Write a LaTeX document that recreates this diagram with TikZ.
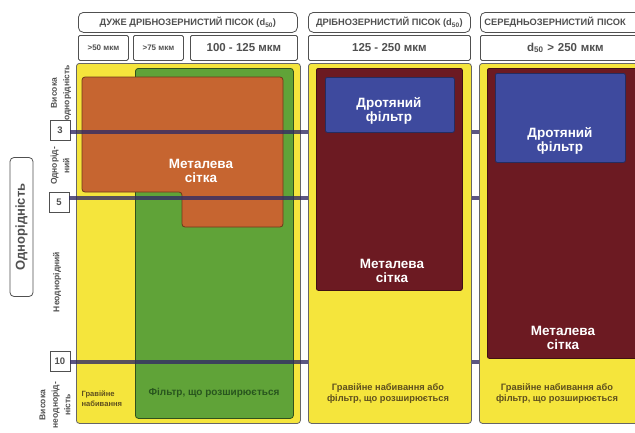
\documentclass[tikz,border=0pt]{standalone}
\usepackage{fontspec}
\setmainfont{Liberation Sans}
\definecolor{cyellow}{RGB}{245,229,60}
\definecolor{cgreen}{RGB}{96,163,56}
\definecolor{corange}{RGB}{198,101,48}
\definecolor{cred}{RGB}{108,26,34}
\definecolor{cblue}{RGB}{62,74,158}
\definecolor{cline}{RGB}{50,44,100}
\definecolor{cgray}{RGB}{80,80,80}
\definecolor{colive}{RGB}{95,80,30}
\definecolor{cdkgreen}{RGB}{40,85,30}
\begin{document}
\begin{tikzpicture}[x=1pt,y=-1pt,
  hdr/.style={draw=cgray,line width=0.8pt,fill=white,rounded corners=5pt,inner sep=0pt,anchor=north west,text=cgray,font=\bfseries\fontsize{9.3}{10}\selectfont},
  sub/.style={draw=cgray,line width=0.8pt,fill=white,rounded corners=1.5pt,inner sep=0pt,anchor=north west,text=cgray,font=\bfseries\fontsize{11.5}{12}\selectfont},
  num/.style={draw=cgray,line width=0.8pt,fill=white,inner sep=0pt,minimum width=20pt,minimum height=20pt,text=cgray,font=\bfseries\fontsize{9.5}{10}\selectfont},
  side/.style={rotate=90,align=center,text=cgray,font=\bfseries\fontsize{8.5}{12.5}\selectfont},
  panel/.style={draw=black!60,line width=0.8pt,rounded corners=3pt,inner sep=0pt,anchor=north west},
  wtxt/.style={text=white,align=center,font=\bfseries\fontsize{13.5}{14}\selectfont},
  btxt/.style={text=colive,align=center,font=\bfseries\fontsize{9.3}{11}\selectfont},
  hline/.style={draw=cline,line width=4pt,draw opacity=0.8}]
\useasboundingbox (0,0) rectangle (635,432);
\fill[white] (0,0) rectangle (635,432);

% header row 1
\node[hdr,minimum width=219pt,minimum height=20pt] (h1) at (78,12) {ДУЖЕ ДРІБНОЗЕРНИСТИЙ ПІСОК (d\textsubscript{50})};
\node[hdr,minimum width=162pt,minimum height=20pt] (h2) at (308,12) {ДРІБНОЗЕРНИСТИЙ ПІСОК (d\textsubscript{50})};
\node[hdr,minimum width=170pt,minimum height=20pt,text width=166pt,align=left] (h3) at (480,12) {\hspace*{2pt}СЕРЕДНЬОЗЕРНИСТИЙ ПІСОК};
% header row 2
\node[sub,minimum width=50pt,minimum height=25pt,font=\bfseries\fontsize{8}{9}\selectfont] (s1) at (78,35) {>50 мкм};
\node[sub,minimum width=50pt,minimum height=25pt,font=\bfseries\fontsize{8}{9}\selectfont] (s2) at (133,35) {>75 мкм};
\node[sub,minimum width=107pt,minimum height=25pt] (s3) at (190,35) {100 - 125 мкм};
\node[sub,minimum width=162pt,minimum height=25pt] (s4) at (308,35) {125 - 250 мкм};
\node[sub,minimum width=170pt,minimum height=25pt,text width=155pt,align=center] (s5) at (480,35) {d\textsubscript{50} > 250 мкм};

% column 1
\node[panel,fill=cyellow,minimum width=224pt,minimum height=360pt] (y1) at (76,63) {};
\node[panel,fill=cgreen,draw=black!50!cgreen,minimum width=158pt,minimum height=350pt] (g1) at (135,68) {};
\filldraw[fill=corange,draw=black!45!corange,line width=0.8pt,rounded corners=3pt]
  (82,77) -- (283,77) -- (283,227) -- (182,227) -- (182,192) -- (82,192) -- cycle;
\node[wtxt] (m1) at (201,171) {Металева\\сітка};
\node[btxt,align=left,font=\bfseries\fontsize{7.6}{10}\selectfont,anchor=west] (b1) at (78,399) {Гравійне\\набивання};
\node[btxt,text=cdkgreen,font=\bfseries\fontsize{10}{11}\selectfont] (b2) at (214,393) {Фільтр, що розширюється};

% number boxes and lines
\node[num] (n3) at (60,130) {3};
\node[num] (n5) at (59,202) {5};
\node[num] (n10) at (60,361) {10};
\coordinate (e3) at (635,132);
\coordinate (e5) at (635,198);
\coordinate (e10) at (635,362);
\draw[hline] (n3.east |- e3) -- (e3);
\draw[hline] (n5.east |- e5) -- (e5);
\draw[hline] (n10.east |- e10) -- (e10);

% column 2
\node[panel,fill=cyellow,minimum width=163pt,minimum height=360pt] (y2) at (308,63) {};
\node[panel,fill=cred,draw=black!40!cred,rounded corners=2pt,minimum width=146pt,minimum height=222pt] (r2) at (316,68) {};
\node[panel,fill=cblue,draw=black!40!cblue,rounded corners=2pt,minimum width=129pt,minimum height=55pt] (bl2) at (325,77) {};
\node[wtxt] (d2) at (389,111) {Дротяний\\фільтр};
\node[wtxt] (m2) at (392,271) {Металева\\сітка};
\node[btxt] (b3) at (388,393) {Гравійне набивання або\\фільтр, що розширюється};

% column 3
\node[panel,fill=cyellow,minimum width=170pt,minimum height=360pt] (y3) at (479,63) {};
\node[panel,fill=cred,draw=black!40!cred,rounded corners=2pt,minimum width=160pt,minimum height=290pt] (r3) at (487,68) {};
\node[panel,fill=cblue,draw=black!40!cblue,rounded corners=2pt,minimum width=130pt,minimum height=89pt] (bl3) at (495,73) {};
\node[wtxt] (d3) at (560,141) {Дротяний\\фільтр};
\node[wtxt] (m3) at (563,338) {Металева\\сітка};
\node[btxt] (b4) at (557,393) {Гравійне набивання або\\фільтр, що розширюється};

% left labels
\node[draw=cgray,line width=0.8pt,rounded corners=4pt,rotate=90,minimum width=139pt,minimum height=23pt,inner sep=0pt,text=cgray,font=\bfseries\fontsize{13}{14}\selectfont] (od) at (21.5,227) {Однорідність};
\node[side] (l1) at (61,93) {Висока\\однорідність};
\node[side] (l2) at (60,166) {Однорід-\\ний};
\node[side] (l3) at (57,282) {Неоднорідний};
\node[side] (l4) at (55,405) {Висока\\неоднорід-\\ність};
\end{tikzpicture}
\end{document}
